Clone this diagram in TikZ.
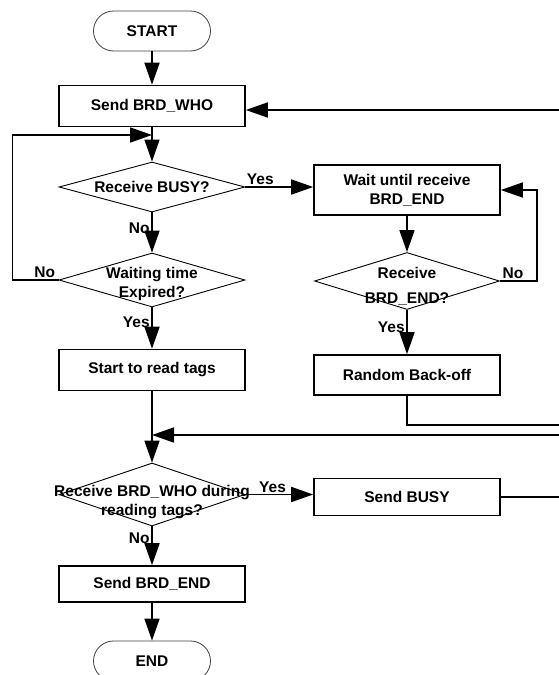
\documentclass[tikz,border=0pt]{standalone}
\usepackage{fontspec}
\setmainfont{Liberation Sans}
\usetikzlibrary{arrows.meta, positioning, shapes.geometric}

\begin{document}
\begin{tikzpicture}[
    x=1pt, y=-1pt,
    >={Triangle[length=22pt, width=15pt]},
    font=\fontsize{15.5}{19}\selectfont\bfseries,
    line width=1.7pt,
    terminal/.style={draw=black!75, line width=0.8pt, rounded corners=20pt,
                     minimum width=117pt, minimum height=40pt},
    process/.style={draw, line width=1.6pt, minimum width=186pt, align=center,
                    inner sep=2pt},
    decision/.style={diamond, draw, line width=0.9pt, inner sep=0pt},
    dtext/.style={align=center, inner sep=0pt},
    answer/.style={inner sep=1.5pt}
  ]
    \useasboundingbox (0,0) rectangle (559,675);
    \clip (0,0) rectangle (559,675);

    % left column
    \node[terminal] (start) at (152,31) {START};
    \node[process, minimum height=41pt] (who) at (152,106) {Send BRD\_WHO};
    \node[decision, minimum width=186pt, minimum height=50pt] (busyq) at (152,187) {};
    \node[dtext] at (busyq) {Receive BUSY?};
    \node[decision, minimum width=186pt, minimum height=54pt] (timeq) at (152,280) {};
    \node[dtext] at (152,284) {Waiting time\\Expired?};
    \node[process, minimum height=41pt] (read) at (152,370) {Start to read tags};
    \node[decision, minimum width=186pt, minimum height=63pt] (whoq) at (152,494.5) {};
    \node[dtext] at (152,502) {Receive BRD\_WHO during\\reading tags?};
    \node[process, minimum height=36pt] (sendend) at (152,584) {Send BRD\_END};
    \node[terminal] (end) at (152,661) {END};

    % right column
    \node[process, minimum height=50pt] (wait) at (407,190) {Wait until receive\\BRD\_END};
    \node[decision, minimum width=185pt, minimum height=57pt] (endq) at (407,281) {};
    \node[dtext] at (407,286) {Receive\\[6pt]BRD\_END?};
    \node[process, minimum height=40pt] (backoff) at (407,375) {Random Back-off};
    \node[process, minimum height=37pt] (busy) at (407,497) {Send BUSY};

    \coordinate (loopin) at (152,135);
    \coordinate (merge) at (152,435);

    % connectors
    \draw[->] (start) -- (who);
    \draw[->] (who) -- (busyq);
    \draw[->] (busyq.east) -- node[answer, above, pos=0.22]{Yes} (busyq.east -| wait.west);
    \draw[->] (busyq) -- node[answer, left, pos=0.4]{No} (timeq);
    \draw[->] (timeq.west) -- node[answer, above, pos=0.3]{No} +(-46,0) |- (loopin);
    \draw[->] (timeq) -- node[answer, left, pos=0.35]{Yes} (read);
    \draw[->] (wait) -- (endq);
    \draw[->] (endq) -- node[answer, left, pos=0.4]{Yes} (backoff);
    \draw[->] (endq.east) -- node[answer, above, pos=0.35]{No} +(37,0) |- (wait.east);
    \draw[->] (backoff.south) |- (590,425) |- ([yshift=-4pt]who.east);
    \draw[->] (read) -- (whoq);
    \draw[->] (busy.east) -- (575,497) |- (merge);
    \draw[->] (whoq.east) -- node[answer, above, pos=0.4]{Yes} (whoq.east -| busy.west);
    \draw[->] (whoq) -- node[answer, left, pos=0.3]{No} (sendend);
    \draw[->] (sendend) -- (end);
\end{tikzpicture}
\end{document}
